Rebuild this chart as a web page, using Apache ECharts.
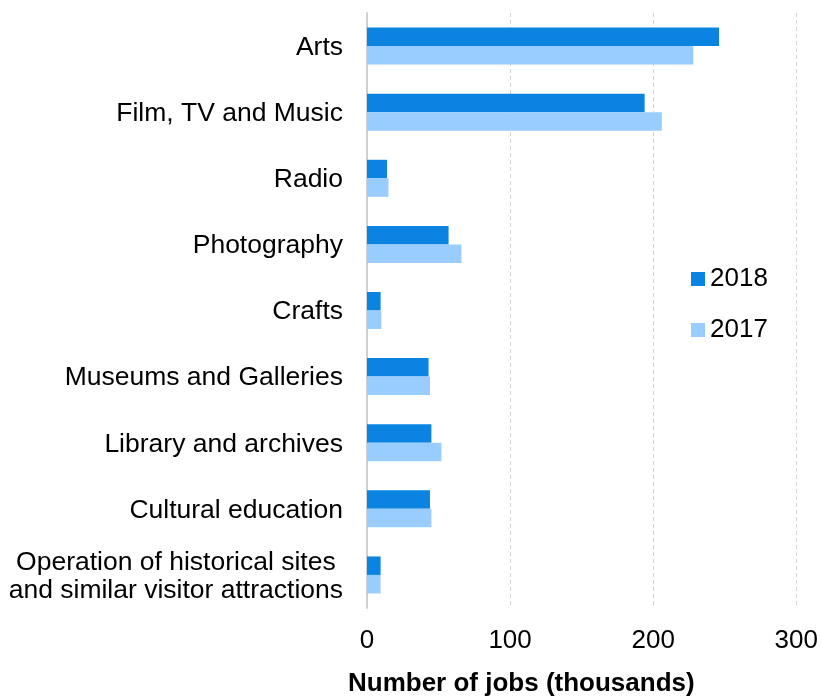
<!DOCTYPE html>
<html>
<head>
<meta charset="utf-8">
<script src="https://cdn.jsdelivr.net/npm/echarts@6/dist/echarts.min.js"></script>
<style>
  html, body { margin: 0; padding: 0; background: #fff; }
  #chart { width: 821px; height: 696px; }
</style>
</head>
<body>
<div id="chart"></div>
<script>
const categories = [
  'Arts',
  'Film, TV and Music',
  'Radio',
  'Photography',
  'Crafts',
  'Museums and Galleries',
  'Library and archives',
  'Cultural education',
  'Operation of historical sites\nand similar visitor attractions'
]
const jobs2018 = [246, 194, 14, 57, 9.5, 43, 45, 44, 9.5]
const jobs2017 = [228, 206, 15, 66, 10, 44, 52, 45, 9.5]
const xTicks = [0, 100, 200, 300]

const font = '"Liberation Sans", Arial, sans-serif'

let myChart = echarts.init(document.getElementById('chart'))
myChart.setOption({
  animation: false,
  title: {
    text: 'Number of jobs (thousands)',
    left: 348,
    top: 671,
    padding: 0,
    textStyle: { fontFamily: font, fontSize: 26, fontWeight: 'bold', color: '#000' }
  },
  legend: {
    orient: 'vertical',
    left: 686,
    top: 261,
    itemWidth: 14,
    itemHeight: 14,
    itemGap: 25,
    icon: 'rect',
    data: ['2018', '2017'],
    textStyle: { fontFamily: font, fontSize: 26, color: '#000' }
  },
  grid: { left: 367, right: 22, top: 13, bottom: 88 },
  xAxis: {
    type: 'value',
    min: xTicks[0],
    max: xTicks[xTicks.length - 1],
    interval: 100,
    axisLine: { show: false },
    axisTick: { show: false },
    axisLabel: { fontFamily: font, fontSize: 26, color: '#000', margin: 20 },
    splitLine: { lineStyle: { color: '#d4d4d4', type: [4, 3], width: 1 } }
  },
  yAxis: {
    type: 'category',
    inverse: true,
    data: categories,
    axisLine: { lineStyle: { color: '#d0d0d0', width: 2 } },
    axisTick: { show: false },
    axisLabel: {
      margin: 24,
      fontFamily: font,
      fontSize: 26.5,
      color: '#000',
      lineHeight: 28,
      formatter: v => v.split('\n').map(s => '{c|' + s + '}').join('\n'),
      rich: {
        c: { align: 'center', fontFamily: font, fontSize: 26.5, color: '#000', lineHeight: 28, padding: [3, 0, 0, 0] }
      }
    }
  },
  series: [
    {
      name: '2018',
      type: 'bar',
      data: jobs2018,
      barWidth: 18.5,
      barGap: '0%',
      itemStyle: { color: '#0a84e0' }
    },
    {
      name: '2017',
      type: 'bar',
      data: jobs2017,
      barWidth: 18.5,
      barGap: '0%',
      itemStyle: { color: '#99ccff' }
    }
  ]
})
</script>
</body>
</html>
